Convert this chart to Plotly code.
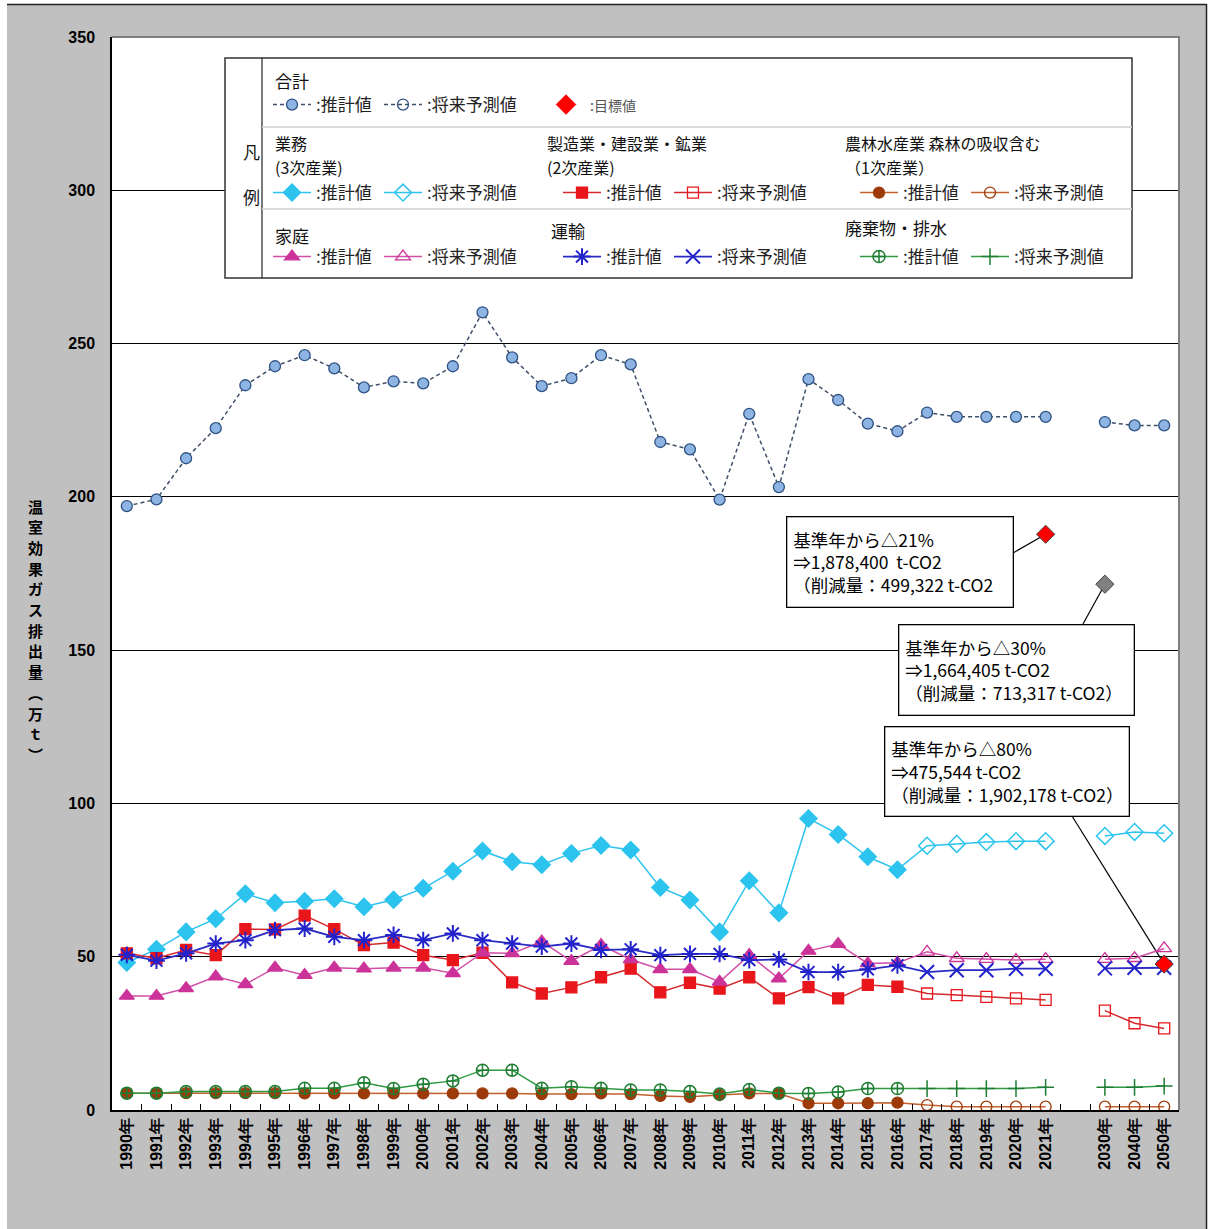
import plotly.graph_objects as go

# ---------------- data ----------------
years_hist = ["1990年", "1991年", "1992年", "1993年", "1994年", "1995年", "1996年", "1997年",
              "1998年", "1999年", "2000年", "2001年", "2002年", "2003年", "2004年", "2005年",
              "2006年", "2007年", "2008年", "2009年", "2010年", "2011年", "2012年", "2013年",
              "2014年", "2015年", "2016年"]
years_proj = ["2017年", "2018年", "2019年", "2020年", "2021年", "2030年", "2040年", "2050年"]
GAP = "\u3000"
x_categories = years_hist + years_proj[:5] + [GAP] + years_proj[5:]
y_ticks = [0, 50, 100, 150, 200, 250, 300, 350]

total_hist = [197.0, 199.2, 212.6, 222.4, 236.4, 242.6, 246.2, 241.9, 235.7, 237.7, 237.0, 242.6,
              260.2, 245.5, 236.1, 238.7, 246.2, 243.2, 217.9, 215.5, 199.1, 227.1, 203.2, 238.4,
              231.6, 223.9, 221.4]
total_proj = [227.5, 226.1, 226.1, 226.1, 226.1, 224.4, 223.3, 223.3]

gyomu_hist = [48.1, 52.4, 58.1, 62.4, 70.5, 67.6, 68.1, 68.9, 66.3, 68.6, 72.3, 77.9, 84.5, 81.0,
              80.0, 83.7, 86.3, 84.8, 72.6, 68.5, 58.1, 74.8, 64.3, 95.1, 89.9, 82.6, 78.4]
gyomu_proj = [86.2, 86.8, 87.4, 87.7, 87.7, 89.4, 90.7, 90.3]

seizo_hist = [51.1, 49.5, 52.2, 50.5, 59.0, 58.9, 63.4, 59.0, 53.8, 54.6, 50.5, 48.9, 51.3, 41.6,
              38.0, 40.0, 43.3, 46.1, 38.4, 41.5, 39.6, 43.3, 36.4, 40.1, 36.4, 40.8, 40.2]
seizo_proj = [38.0, 37.5, 36.9, 36.4, 35.9, 32.4, 28.3, 26.6]

norin_hist = [5.5, 5.5, 5.5, 5.5, 5.5, 5.5, 5.4, 5.4, 5.4, 5.4, 5.4, 5.4, 5.4, 5.4, 5.2, 5.2,
              5.4, 5.2, 4.6, 4.3, 4.9, 5.4, 5.4, 2.2, 2.2, 2.2, 2.4]
norin_proj = [1.6, 1.1, 1.1, 1.1, 1.1, 1.1, 1.1, 1.1]

katei_hist = [37.2, 37.2, 39.7, 43.5, 41.0, 46.4, 44.0, 46.4, 46.1, 46.4, 46.4, 44.6, 51.3, 51.1,
              54.9, 48.6, 53.8, 49.1, 45.9, 45.9, 41.8, 50.5, 42.9, 51.9, 54.1, 47.8, 48.0]
katei_proj = [51.6, 49.5, 49.2, 48.9, 49.2, 49.2, 49.5, 52.7]

unyu_hist = [50.6, 48.7, 51.1, 54.3, 55.4, 58.7, 59.2, 56.5, 55.4, 57.1, 55.4, 57.6, 55.4, 54.3,
             53.3, 54.3, 52.2, 52.4, 50.5, 50.9, 50.9, 48.9, 49.1, 45.0, 45.0, 45.9, 47.2]
unyu_proj = [45.0, 45.6, 45.6, 46.1, 46.1, 46.2, 46.4, 46.4]

haiki_hist = [5.5, 5.5, 6.0, 6.0, 6.0, 6.0, 7.1, 7.1, 8.9, 7.0, 8.4, 9.5, 13.0, 13.0, 7.1, 7.6,
              7.1, 6.5, 6.5, 6.0, 5.2, 6.7, 5.5, 5.4, 5.9, 7.0, 7.0]
haiki_proj = [7.0, 7.0, 7.0, 7.0, 7.4, 7.4, 7.4, 7.8]

target_years = ["2021年", "2030年", "2050年"]
target_values = [187.8, 171.5, 47.6]
target_colors = ["#FF0000", "#808080", "#FF0000"]
target_notes = [
    "基準年から△21%<br>⇒1,878,400  t-CO2<br>（削減量：499,322 t-CO2",
    "基準年から△30%<br>⇒1,664,405 t-CO2<br>（削減量：713,317 t-CO2）",
    "基準年から△80%<br>⇒475,544 t-CO2<br>（削減量：1,902,178 t-CO2）",
]

# ---------------- geometry helpers ----------------
W, H = 1209, 1229
L, R, T, B = 112, 1179, 37, 1110
NCAT = len(x_categories)


def px(x):
    return (x - L) / (R - L)


def py(y):
    return (B - y) / (B - T)


def xidx(pxx):
    return (pxx - L) / (R - L) * NCAT - 0.5


def yval(pyy):
    return (B - pyy) / (B - T) * 350


def full(hist, proj):
    xs = years_hist + years_proj[:5] + [GAP] + years_proj[5:]
    ys = hist + proj[:5] + [None] + proj[5:]
    return xs, ys


def syms(est, fut):
    return [est] * len(years_hist) + [fut] * (len(years_proj) + 1)


JP = "Noto Sans CJK JP"
fig = go.Figure()

series = [
    dict(hist=gyomu_hist, proj=gyomu_proj, color="#2CC4EE", line="#2CC4EE",
         est="diamond", fut="diamond-open", size=13, lw=1.5, mlw=1.5),
    dict(hist=seizo_hist, proj=seizo_proj, color="#E8161B", line="#D42A2E",
         est="square", fut="square-open", size=11, lw=1.5, mlw=1.3),
    dict(hist=katei_hist, proj=katei_proj, color="#CC3399", line="#D24FA8",
         est="triangle-up", fut="triangle-up-open", size=13, lw=1.5, mlw=1.3),
    dict(hist=unyu_hist, proj=unyu_proj, color="#2323CC", line="#2A2AC4",
         est="asterisk-open", fut="x-thin-open", size=14, lw=1.8, mlw=2.0),
    dict(hist=norin_hist, proj=norin_proj, color="#9C3A0A", line="#C2602E",
         est="circle", fut="circle-open", size=11, lw=1.5, mlw=1.3),
    dict(hist=haiki_hist, proj=haiki_proj, color="#1E7D32", line="#2E9A42",
         est="circle-cross-open", fut="cross-thin-open", size=12, lw=1.5, mlw=1.5),
]

for s in series:
    xs, ys = full(s["hist"], s["proj"])
    fig.add_trace(go.Scatter(
        x=xs, y=ys, mode="lines+markers", showlegend=False, hoverinfo="skip",
        line=dict(color=s["line"], width=s["lw"]),
        marker=dict(symbol=syms(s["est"], s["fut"]), size=s["size"], color=s["color"],
                    line=dict(color=s["color"], width=s["mlw"])),
    ))

TOTAL_LINE = "#3F4F6A"
TOTAL_FILL = "#8DB4E2"
TOTAL_EDGE = "#2F5283"
TOTAL_DASH = "4px,3px"
xs, ys = full(total_hist, total_proj)
fig.add_trace(go.Scatter(
    x=xs, y=ys, mode="lines+markers", showlegend=False, hoverinfo="skip",
    line=dict(color=TOTAL_LINE, width=1.5, dash=TOTAL_DASH),
    marker=dict(symbol="circle", size=11, color=TOTAL_FILL, line=dict(color=TOTAL_EDGE, width=1.3)),
))

fig.add_trace(go.Scatter(
    x=target_years, y=target_values, mode="markers", showlegend=False, hoverinfo="skip",
    marker=dict(symbol="diamond", size=14, color=target_colors,
                line=dict(color="#404040", width=1)),
))

# ---------------- custom legend (legend-only traces) ----------------
row_y = [105, 193, 257]
legend_entries = [
    (268, 0, ":推計値", dict(color=TOTAL_LINE, width=1.5, dash=TOTAL_DASH),
     dict(symbol="circle", size=11, color=TOTAL_FILL, line=dict(color=TOTAL_EDGE, width=1.3)), "lines+markers"),
    (379, 0, ":将来予測値", dict(color=TOTAL_LINE, width=1.5, dash=TOTAL_DASH),
     dict(symbol="circle-open", size=11, color=TOTAL_EDGE, line=dict(color=TOTAL_EDGE, width=1.3)), "lines+markers"),
    (542, 0, "<span style='font-size:14px;color:#555555'>:目標値</span>", None,
     dict(symbol="diamond", size=15, color="#FF0000", line=dict(color="#FF0000", width=1)), "markers"),
]
group_pos = [(268, 1), (558, 1), (855, 1), (268, 2), (558, 2), (855, 2)]
group_series = [series[0], series[1], series[4], series[2], series[3], series[5]]
for (ox, row), s in zip(group_pos, group_series):
    ln = dict(color=s["line"], width=s["lw"])
    legend_entries.append((ox, row, ":推計値", ln,
                           dict(symbol=s["est"], size=s["size"], color=s["color"],
                                line=dict(color=s["color"], width=s["mlw"])), "lines+markers"))
    legend_entries.append((ox + 111, row, ":将来予測値", ln,
                           dict(symbol=s["fut"], size=s["size"], color=s["color"],
                                line=dict(color=s["color"], width=s["mlw"])), "lines+markers"))

legend_layouts = {}
for i, (ox, row, name, ln, mk, mode) in enumerate(legend_entries):
    lid = "legend" if i == 0 else f"legend{i + 1}"
    tr = dict(x=[None], y=[None], mode=mode, name=name, legend=lid, showlegend=True,
              marker=mk, hoverinfo="skip")
    if ln is not None:
        tr["line"] = ln
    fig.add_trace(go.Scatter(**tr))
    legend_layouts[lid] = dict(
        x=px(ox), y=py(row_y[row]), xanchor="left", yanchor="middle",
        orientation="h", bgcolor="rgba(0,0,0,0)", borderwidth=0,
        itemwidth=38, itemclick=False, itemdoubleclick=False,
        font=dict(family=JP, size=17, color="#222222"),
    )

# ---------------- shapes ----------------
shapes = []
shapes.append(dict(type="rect", xref="paper", yref="paper", x0=px(225), x1=px(1132),
                   y0=py(278), y1=py(58), fillcolor="white",
                   line=dict(color="#333333", width=1.5), layer="above"))
shapes.append(dict(type="line", xref="paper", yref="paper", x0=px(262), x1=px(262),
                   y0=py(278), y1=py(58), line=dict(color="#333333", width=1.3), layer="above"))
for yy in (127, 209):
    shapes.append(dict(type="line", xref="paper", yref="paper", x0=px(262), x1=px(1132),
                       y0=py(yy), y1=py(yy), line=dict(color="#CFCFCF", width=1.3), layer="above"))

shapes.append(dict(type="path", xref="paper", yref="paper",
                   path=f"M {px(L)},{py(T)} L {px(R)},{py(T)} L {px(R)},{py(B)}",
                   line=dict(color="#808080", width=2), layer="above"))

shapes.append(dict(type="rect", xref="paper", yref="paper", x0=px(0), x1=px(7), y0=py(H), y1=py(0),
                   fillcolor="white", line=dict(width=0), layer="above"))
shapes.append(dict(type="rect", xref="paper", yref="paper", x0=px(0), x1=px(W), y0=py(4), y1=py(0),
                   fillcolor="white", line=dict(width=0), layer="above"))
shapes.append(dict(type="rect", xref="paper", yref="paper", x0=px(1207), x1=px(W), y0=py(H), y1=py(0),
                   fillcolor="white", line=dict(width=0), layer="above"))
shapes.append(dict(type="line", xref="paper", yref="paper", x0=px(7), x1=px(1206.5),
                   y0=py(4.5), y1=py(4.5), line=dict(color="#222222", width=1.5), layer="above"))
shapes.append(dict(type="line", xref="paper", yref="paper", x0=px(1206.5), x1=px(1206.5),
                   y0=py(4), y1=py(H), line=dict(color="#222222", width=1.5), layer="above"))

note_boxes = [(786, 516, 227, 91), (898, 624, 236, 91), (884, 726, 245, 90)]
note_tails = [(1013, 553), (1083, 624), (1072, 816)]
for yr, val, (tx, ty) in zip(target_years, target_values, note_tails):
    shapes.append(dict(type="line", xref="x", yref="y", x0=x_categories.index(yr), y0=val,
                       x1=xidx(tx), y1=yval(ty), line=dict(color="black", width=1.2), layer="between"))

# ---------------- annotations ----------------
ann = []
for note, (bx, by, bw, bh) in zip(target_notes, note_boxes):
    ann.append(dict(xref="paper", yref="paper", x=px(bx), y=py(by), xanchor="left", yanchor="top",
                    text=note, showarrow=False, align="left", valign="middle",
                    width=bw - 14, height=bh - 14, borderpad=6, bgcolor="white",
                    bordercolor="black", borderwidth=1.3,
                    font=dict(family=JP, size=17.5, color="black")))

group_titles = [
    ("合計", 273, 80, 17),
    ("業務", 273, 143, 16),
    ("(3次産業)", 273, 167, 16),
    ("製造業・建設業・鉱業", 545, 143, 16),
    ("(2次産業)", 545, 167, 16),
    ("農林水産業 森林の吸収含む", 843, 143, 16),
    ("（1次産業）", 843, 167, 16),
    ("家庭", 273, 235, 17),
    ("運輸", 549, 230, 17),
    ("廃棄物・排水", 843, 227, 17),
]
for txt, tx, ty, fs in group_titles:
    ann.append(dict(xref="paper", yref="paper", x=px(tx), y=py(ty), xanchor="left", yanchor="middle",
                    text=txt, showarrow=False, align="left",
                    font=dict(family=JP, size=fs, color="#111111")))

ann.append(dict(xref="paper", yref="paper", x=px(241), y=py(137), text="凡", showarrow=False,
                font=dict(family=JP, size=17, color="#111111")))
ann.append(dict(xref="paper", yref="paper", x=px(241), y=py(182), text="例", showarrow=False,
                font=dict(family=JP, size=17, color="#111111")))

y_title_chars = ["温", "室", "効", "果", "ガ", "ス", "排", "出", "量", "︵", "万", "ｔ", "︶"]
for k, ch in enumerate(y_title_chars):
    ann.append(dict(xref="paper", yref="paper", x=px(36), y=py(506 + k * 20.7),
                    xanchor="center", yanchor="middle", text=ch, showarrow=False,
                    font=dict(family=JP, size=15, color="black", weight="bold")))

fig.update_layout(
    width=W, height=H,
    margin=dict(l=L, r=W - R, t=T, b=H - B, pad=0, autoexpand=False),
    paper_bgcolor="#C0C0C0", plot_bgcolor="white",
    font=dict(family=JP, size=16, color="black"),
    showlegend=True,
    shapes=shapes, annotations=ann,
    xaxis=dict(type="category", categoryorder="array", categoryarray=x_categories,
               range=[-0.5, NCAT - 0.5], tickson="boundaries", ticks="inside", ticklen=6,
               tickwidth=1.2, tickcolor="black", tickangle=-90, dtick=1,
               tickfont=dict(family="Liberation Sans", size=16, color="black", weight="bold"),
               showline=True, linecolor="black", linewidth=1.5, showgrid=False, zeroline=False,
               fixedrange=True),
    yaxis=dict(range=[0, 350], tickmode="array", tickvals=y_ticks, showgrid=True,
               gridcolor="black", gridwidth=1, showline=True, linecolor="black", linewidth=1.5,
               zeroline=False, ticks="", ticklabelstandoff=12,
               tickfont=dict(family="Liberation Sans", size=16, color="black", weight="bold"),
               fixedrange=True),
    **legend_layouts,
)

fig.write_html("out.html", config={"displayModeBar": False},
               post_script="document.body.style.margin='0';document.body.style.overflow='hidden';")
